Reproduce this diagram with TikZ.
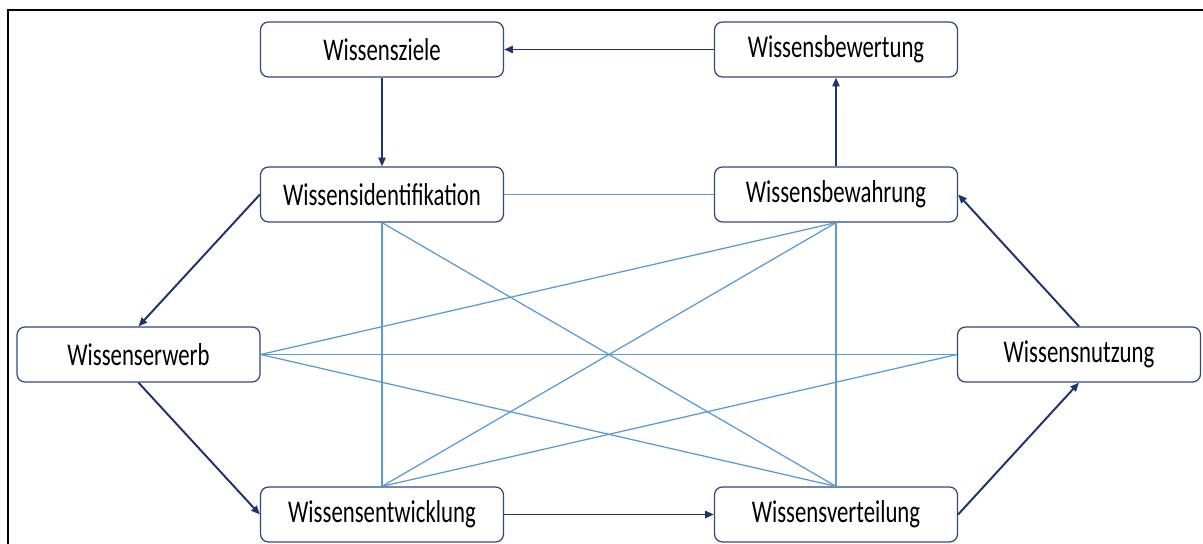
\documentclass[tikz,border=0pt]{standalone}
\usepackage{fontspec}
\setmainfont{Carlito}[FakeStretch=0.72]
\usetikzlibrary{arrows.meta}
\definecolor{flowblue}{RGB}{30,52,108}
\definecolor{boxblue}{RGB}{47,72,128}
\definecolor{linkblue}{RGB}{91,155,213}
\begin{document}
\begin{tikzpicture}[
		stage/.style={draw=boxblue,line width=0.9pt,fill=white,rounded corners=0.2cm,minimum width=6.075cm,minimum height=1.375cm,inner sep=0pt,font=\fontsize{22.5}{26}\selectfont},
		flow/.style={draw=flowblue,line width=1.4pt,-{Triangle[length=2.2mm,width=1.8mm]}},
		link/.style={draw=linkblue,line width=0.9pt}
	]
		\useasboundingbox (0,0) rectangle (30.075,-13.6);
		\draw[line width=1.4pt] (0.2,-13.7) -- (0.2,-0.25) -- (30.2,-0.25);
		
		\node[stage] (ziele) at (9.55,-1.2375) {Wissensziele};
		\node[stage] (ident) at (9.55,-4.8625) {Wissensidentifikation};
		\node[stage] (bewert) at (20.9,-1.2375) {Wissensbewertung};
		\node[stage] (bewahr) at (20.9,-4.8625) {Wissensbewahrung};
		\node[stage] (erwerb) at (3.4625,-8.8625) {Wissenserwerb};
		\node[stage] (nutz) at (26.975,-8.8625) {Wissensnutzung};
		\node[stage] (entw) at (9.55,-12.8625) {Wissensentwicklung};
		\node[stage] (vert) at (20.9,-12.8625) {Wissensverteilung};
		
		\foreach \a/\b in {ident.east/bewahr.west, ident.south/entw.north, ident.south/vert.north,
			bewahr.south/vert.north, bewahr.south/entw.north, erwerb.east/bewahr.south,
			erwerb.east/nutz.west, erwerb.east/vert.north, entw.north/nutz.west}
			\draw[link] (\a) -- (\b);
		
		\draw[flow] (bewert.west) -- (ziele.east);
		\draw[flow] (ziele.south) -- (ident.north);
		\draw[flow] (ident.west) -- (erwerb.north);
		\draw[flow] (erwerb.south) -- (entw.west);
		\draw[flow] (entw.east) -- (vert.west);
		\draw[flow] (vert.east) -- (nutz.south);
		\draw[flow] (nutz.north) -- (bewahr.east);
		\draw[flow] (bewahr.north) -- (bewert.south);
		
	\end{tikzpicture}
\end{document}
